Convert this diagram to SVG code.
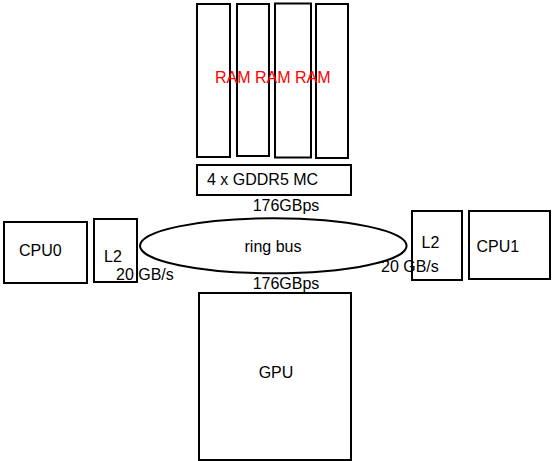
<svg xmlns="http://www.w3.org/2000/svg" width="555" height="461" viewBox="0 0 555 461">
<style>
.b{fill:#fff;stroke:#000;stroke-width:2}
.t{font-family:"Liberation Sans",Arial,sans-serif;font-size:16px;fill:#000}
.r{fill:#ff0000}
</style>
<rect width="555" height="461" fill="#fff"/>
<g id="ram1"><rect class="b" x="197" y="4" width="33" height="153"/></g>
<g id="ram2"><rect class="b" x="237" y="4" width="32" height="152"/></g>
<g id="ram3"><rect class="b" x="275" y="3.5" width="36" height="154"/></g>
<g id="ram4"><rect class="b" x="316" y="4" width="32" height="154"/></g>
<g id="ram-label"><text class="t r" x="215" y="83">RAM RAM RAM</text></g>
<g id="mc"><rect class="b" x="197" y="165" width="154" height="30"/><text class="t" x="207" y="185">4 x GDDR5 MC</text></g>
<g id="cpu0"><rect class="b" x="4" y="222" width="83" height="61"/><text class="t" x="19" y="256">CPU0</text></g>
<g id="l2a"><rect class="b" x="94" y="219" width="43" height="63"/><text class="t" x="104" y="262">L2</text></g>
<g id="ringbus"><ellipse class="b" cx="273.3" cy="245.8" rx="133.3" ry="27.5"/><text class="t" x="273" y="251.5" text-anchor="middle">ring bus</text></g>
<g id="l2b"><rect class="b" x="412" y="211" width="50" height="69"/><text class="t" x="421.5" y="248">L2</text></g>
<g id="cpu1"><rect class="b" x="469" y="211" width="81" height="68"/><text class="t" x="476.5" y="252">CPU1</text></g>
<g id="gpu"><rect class="b" x="199" y="293" width="152" height="167"/><text class="t" x="276" y="377.5" text-anchor="middle">GPU</text></g>
<g id="connectors">
<text class="t" x="286" y="210.5" text-anchor="middle">176GBps</text>
<text class="t" x="286" y="289" text-anchor="middle">176GBps</text>
<text class="t" x="116" y="280">20 GB/s</text>
<text class="t" x="381" y="272">20 GB/s</text>
</g>
</svg>
